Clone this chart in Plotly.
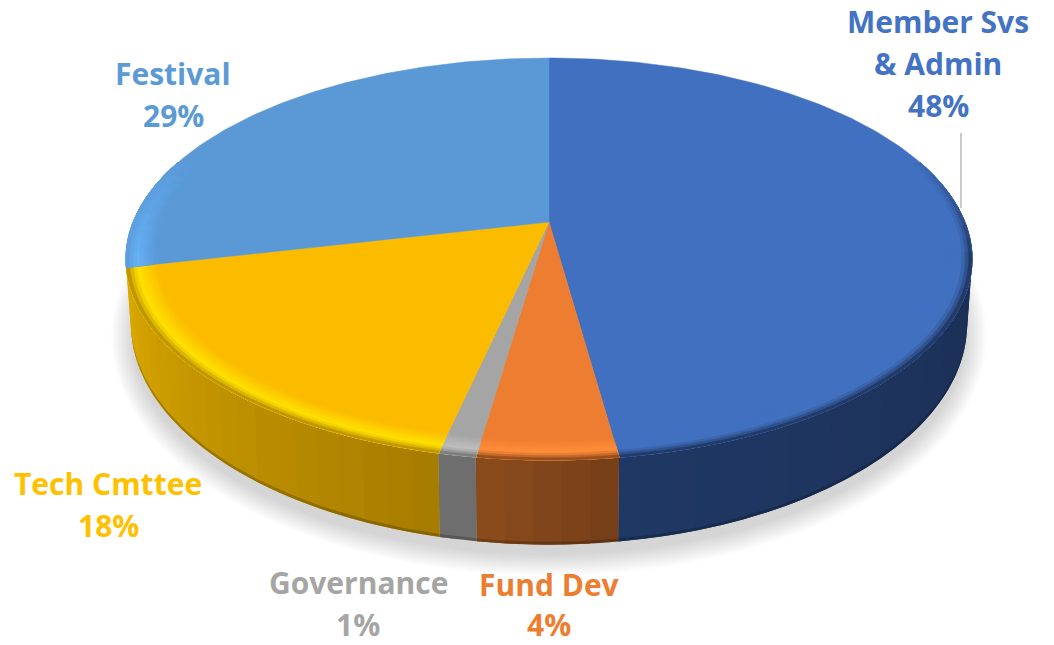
import math
import plotly.graph_objects as go

# slices, clockwise from 12 o'clock
categories = ["Member Svs & Admin", "Fund Dev", "Governance", "Tech Cmttee", "Festival"]
values = [47.8, 4.5, 1.2, 17.9, 28.6]

# styles per slice: face, wall start, wall end, rim highlight, rim edge, label
face_colors = ["#4170c0", "#ed7d31", "#a5a5a5", "#fbbc00", "#5a98d6"]
wall_start = ["#1a2c50", "#753e17", "#6e6e6e", "#a67c00"]
wall_end = ["#1f3864", "#8c4c1d", "#6e6e6e", "#dcaa00"]
rim_peak = ["#4170c0", "#ff8c38", "#bdbdbd", "#ffdf00", "#66b0f5"]
rim_edge = ["#1b2e52", "#7c4018", "#6e6e6e", "#b08400", "#5a98d6"]
label_colors = ["#4472c4", "#ed7d31", "#a5a5a5", "#ffc000", "#5b9bd5"]

# perspective ellipse of the top and bottom of the pie, in pixels
K = 0.184
TOP = dict(cx=549, cy=222, a=415.8, b=194.2)
BOTTOM = dict(cx=549, cy=283, a=411, b=213.5)
BEVEL = 0.93


def project(theta, r, e):
    u = r * math.sin(theta)
    v = -r * math.cos(theta)
    w = 1 / (1 - K * v)
    return e["cx"] + e["a"] * u * w, e["cy"] + e["b"] * v * w


def to_rgb(c):
    return [int(c[i:i + 2], 16) for i in (1, 3, 5)]


def mix(c1, c2, t):
    a, b = to_rgb(c1), to_rgb(c2)
    return "#%02x%02x%02x" % tuple(round(a[i] + (b[i] - a[i]) * t) for i in range(3))


def arc_steps(a0, a1, step):
    n = max(1, math.ceil((a1 - a0) / step))
    return [a0 + (a1 - a0) * i / n for i in range(n + 1)]


def add_poly(fig, color, pts, line=0.0):
    fig.add_trace(go.Scatter(x=[p[0] for p in pts] + [pts[0][0]], y=[p[1] for p in pts] + [pts[0][1]],
                             mode="lines", fill="toself", fillcolor=color,
                             line=dict(color=color, width=line), hoverinfo="skip", showlegend=False))


total = sum(values)
edges = [0]
for v in values:
    edges.append(edges[-1] + v / total * 2 * math.pi)

fig = go.Figure()

# soft shadow under the pie
for i in range(14):
    grow = 1 + i * 1.6
    xs, ys = [], []
    for deg in range(0, 361, 3):
        t = math.radians(deg)
        xs.append(549 + (416 + grow) * math.sin(t))
        ys.append(336 + (218 + grow) * math.cos(t))
    fig.add_trace(go.Scatter(x=xs, y=ys, mode="lines", fill="toself", line=dict(width=0),
                             fillcolor="rgba(0,0,0,0.011)", hoverinfo="skip", showlegend=False))

# side wall, fine bands where each one runs under the next so no seams show.
# Festival's wall is out of sight
for i in range(len(wall_start)):
    a_start, a_end = edges[i], edges[i + 1]
    if i == 0:
        a_start = math.radians(75)  # the part further back is hidden by the face
    n = max(2, round((a_end - a_start) / math.radians(3)))
    for j in range(n):
        a0 = a_start + (a_end - a_start) * j / n
        a1 = a_start + (a_end - a_start) * min(n, j + 2) / n
        c = mix(wall_start[i], wall_end[i], (j + 0.5) / n)
        angles = arc_steps(a0, a1, math.radians(1))
        upper = [project(a, 1, TOP) for a in angles]
        lower = [project(a, 1, BOTTOM) for a in angles]
        add_poly(fig, c, upper + lower[::-1])
    # slightly darker lip along the bottom edge
    lower = [project(a, 1, BOTTOM) for a in arc_steps(a_start, a_end, math.radians(1))]
    add_poly(fig, "rgba(0,0,0,0.2)", [(p[0], p[1] - 3) for p in lower] + lower[::-1])

# top faces
for i in range(len(values)):
    angles = arc_steps(edges[i], edges[i + 1], math.radians(1))
    pts = [(TOP["cx"], TOP["cy"])] + [project(a, 1, TOP) for a in angles]
    add_poly(fig, face_colors[i], pts, line=0.5)

# bevel rings round the rim, strongest towards the viewer. Levels are grouped so the
# same colour goes into one trace
RINGS = 9
LEVELS = 8
for i in range(len(values)):
    a_all = arc_steps(edges[i], edges[i + 1], math.radians(2))
    for k in range(RINGS):
        r0 = BEVEL + (1 - BEVEL) * k / RINGS
        r1 = 1.0
        t = (k + 0.5) / RINGS
        groups = {}
        for j in range(len(a_all) - 1):
            a0, a1 = a_all[j], a_all[j + 1]
            v = -math.cos((a0 + a1) / 2)
            g = round(max(0.0, min(1, (v + 0.35) / 0.55)) * LEVELS) / LEVELS
            if g == 0:
                continue
            if t < 0.6:
                c = mix(face_colors[i], rim_peak[i], t / 0.6 * g)
            else:
                c = mix(mix(face_colors[i], rim_peak[i], g), rim_edge[i], ((t - 0.6) / 0.4) ** 1.5 * g)
            groups.setdefault(c, []).append((a0, a1))
        for c, spans in groups.items():
            xs, ys = [], []
            for a0, a1 in spans:
                pts = [project(a0, r0, TOP), project(a1, r0, TOP), project(a1, r1, TOP), project(a0, r1, TOP)]
                xs += [p[0] for p in pts] + [pts[0][0], None]
                ys += [p[1] for p in pts] + [pts[0][1], None]
            fig.add_trace(go.Scatter(x=xs, y=ys, mode="lines", fill="toself", fillcolor=c,
                                     line=dict(color=c, width=0.5), hoverinfo="skip", showlegend=False))

# labels, one annotation per text line
label_lines = [["Member Svs", "& Admin"], ["Fund Dev"], ["Governance"], ["Tech Cmttee"], ["Festival"]]
label_x = [938, 549, 358, 108, 173]
label_y = [21, 584, 582, 483, 73]
label_step = [42, 40, 42, 42, 42]
for i in range(len(values)):
    lines = label_lines[i] + ["%d%%" % round(values[i])]
    for n, txt in enumerate(lines):
        fig.add_annotation(x=label_x[i], y=label_y[i] + n * label_step[i], text="<b>" + txt + "</b>", showarrow=False,
                           font=dict(family="Open Sans", size=30, color=label_colors[i]),
                           xanchor="center", yanchor="middle")

# leader line of the first label
fig.add_shape(type="line", x0=961, x1=961, y0=133, y1=208, line=dict(color="#a6a6a6", width=1.2))

fig.update_xaxes(range=[0, 1054], visible=False)
fig.update_yaxes(range=[645, 0], visible=False)
fig.update_layout(width=1054, height=645, margin=dict(l=0, r=0, t=0, b=0),
                  paper_bgcolor="white", plot_bgcolor="white", showlegend=False)

fig.write_html("out.html", config=dict(displayModeBar=False),
               post_script="document.body.style.margin='0';")
